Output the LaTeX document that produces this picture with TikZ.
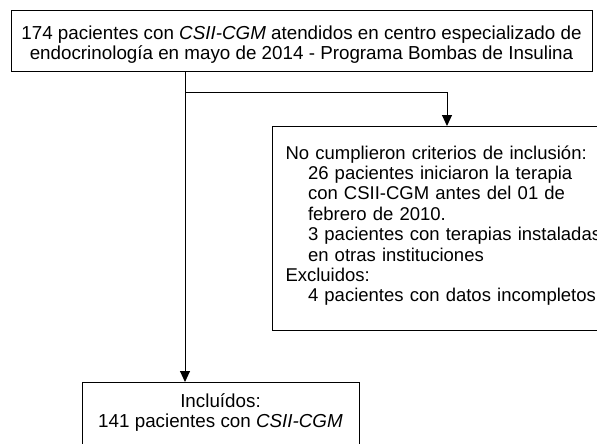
\documentclass[tikz,border=0pt]{standalone}
\usepackage{fontspec}
\setmainfont{Liberation Sans}
\usetikzlibrary{arrows.meta}
\begin{document}
\begin{tikzpicture}[x=1pt,y=1pt,
  box/.style={draw=black, line width=1pt, inner sep=0pt, font=\fontsize{18.8}{20.5}\selectfont},
  arr/.style={line width=1pt, -{Triangle[width=10pt,length=11pt]}},
  ln/.style={line width=1pt}]
\useasboundingbox (0,0) rectangle (597,-444);
\clip (0,0) rectangle (597,-444);
\fill[white] (0,0) rectangle (597,-444);
\node[box, minimum width=581pt, minimum height=61pt, align=center] (top) at (301.5,-41.5)
  {\rule{0pt}{20pt}174 pacientes con \textit{CSII-CGM} atendidos en centro especializado de\\
   endocrinología en mayo de 2014 - Programa Bombas de Insulina};
\node[box, font=\fontsize{18.5}{20.4}\selectfont, anchor=north west, text width=360pt, align=left, inner xsep=13pt, inner ysep=19pt] (excl) at (272,-126)
  {No cumplieron criterios de inclusión:\\
   \hspace*{22.5pt}26 pacientes iniciaron la terapia\\
   \hspace*{22.5pt}con CSII-CGM antes del 01 de\\
   \hspace*{22.5pt}febrero de 2010.\\
   \hspace*{22.5pt}3 pacientes con terapias instaladas\\
   \hspace*{22.5pt}en otras instituciones\\
   Excluidos:\\
   \hspace*{22.5pt}4 pacientes con datos incompletos\rule[-10pt]{0pt}{10pt}};
\node[box, anchor=north, minimum width=277pt, align=center, inner ysep=11pt] (incl) at (220.5,-382)
  {Incluídos:\\141 pacientes con \textit{CSII-CGM}\\\rule{0pt}{40pt}};
\coordinate (a) at (185,-92);
\coordinate (b) at (447,-92);
\draw[arr] (top.south -| a) -- (a |- incl.north);
\draw[ln] (a) -- (b);
\draw[arr] (b) -- (b |- excl.north);
\end{tikzpicture}
\end{document}
